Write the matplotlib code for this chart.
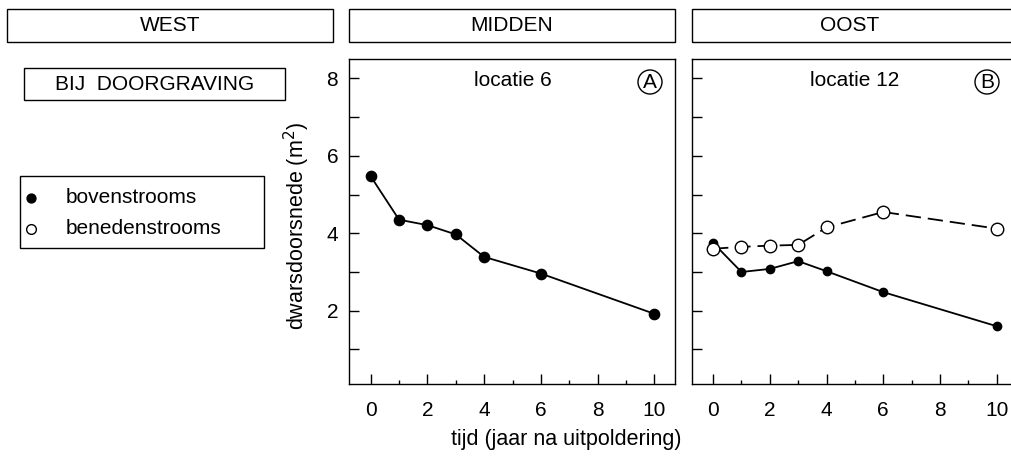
import matplotlib
matplotlib.use("Agg")
import matplotlib.pyplot as plt
from matplotlib.patches import Rectangle, Circle
from matplotlib.ticker import FixedLocator

plt.rcParams['font.family'] = ['Liberation Sans', 'DejaVu Sans']
plt.rcParams['lines.scale_dashes'] = False

# --- data -------------------------------------------------------------
years = [0, 1, 2, 3, 4, 6, 10]
loc6_boven = [5.47, 4.35, 4.21, 3.97, 3.39, 2.96, 1.92]
loc12_boven = [3.75, 3.00, 3.08, 3.28, 3.02, 2.48, 1.60]
loc12_beneden = [3.60, 3.65, 3.68, 3.70, 4.15, 4.55, 4.12]

region_titles = ["WEST", "MIDDEN", "OOST"]
panel_titles = ["locatie 6", "locatie 12"]
panel_letters = ["A", "B"]
legend_labels = ["bovenstrooms", "benedenstrooms"]
xticks = [0, 2, 4, 6, 8, 10]
yticks = [2, 4, 6, 8]

W, H = 1011, 457
fig = plt.figure(figsize=(W / 100, H / 100), dpi=100)

def fx(px):
    return px / W

def fy(py):
    return 1 - py / H

FS = 15

def add_panel(left_px, right_px):
    top, bottom = 59, 384.3
    ax = fig.add_axes([fx(left_px), fy(bottom), (right_px - left_px) / W,
                       (bottom - top) / H])
    ax.set_xlim(-0.755, 10.74)
    ax.set_ylim(0.1, 8.5)
    ax.xaxis.set_major_locator(FixedLocator(xticks))
    ax.xaxis.set_minor_locator(FixedLocator([1, 3, 5, 7, 9]))
    ax.yaxis.set_major_locator(FixedLocator(yticks))
    ax.yaxis.set_minor_locator(FixedLocator([1, 3, 5, 7]))
    ax.tick_params(axis='x', which='major', direction='in', length=7.2,
                   width=1, pad=12, labelsize=FS)
    ax.tick_params(axis='x', which='minor', direction='in', length=3,
                   width=1)
    ax.tick_params(axis='y', which='both', direction='in', length=7.2,
                   width=1, pad=8, labelsize=FS)
    for s in ax.spines.values():
        s.set_linewidth(1)
        s.set_color('black')
    return ax

axA = add_panel(349.3, 675.3)
axB = add_panel(691.7, 1017.7)
axB.set_yticklabels([])
axB.spines['right'].set_visible(False)

lw = 1.3
axA.plot(years, loc6_boven, color='black', lw=lw, marker='o', ms=7.4,
         mfc='black', mec='black', zorder=3)
axB.plot(years, loc12_boven, color='black', lw=lw, marker='o', ms=6.0,
         mfc='black', mec='black', zorder=3)
axB.plot(years, loc12_beneden, color='black', lw=lw, ls='--',
         dashes=(11, 5), marker='o', ms=9.0, mfc='white', mec='black',
         mew=1, zorder=4)

# panel captions and circled letters
for title, letter, cx_px, lx_px in [
        (panel_titles[0], panel_letters[0], 513, 650),
        (panel_titles[1], panel_letters[1], 855, 987)]:
    fig.text(fx(cx_px), fy(81), title, ha='center', va='center',
             fontsize=FS)
    fig.text(fx(lx_px), fy(82), letter, ha='center', va='center',
             fontsize=FS)
    circ = Circle((lx_px, H - 82), 12, transform=None, fill=False,
                  edgecolor='black', lw=1)
    fig.patches.append(circ)

# region header boxes
for (x0, x1), cx, name in zip([(7, 333), (349, 675), (692, 1025)],
                              [170, 512, 850], region_titles):
    fig.patches.append(Rectangle((fx(x0), fy(41.7)), fx(x1 - x0),
                                 (41.7 - 9.3) / H, transform=fig.transFigure,
                                 fill=False, edgecolor='black', lw=1))
    fig.text(fx(cx), fy(25.5), name, ha='center', va='center', fontsize=FS)

# situation box
fig.patches.append(Rectangle((fx(24.3), fy(100)), fx(284.7 - 24.3),
                             (100 - 68.3) / H, transform=fig.transFigure,
                             fill=False, edgecolor='black', lw=1))
fig.text(fx(154.5), fy(84), "BIJ  DOORGRAVING", ha='center', va='center',
         fontsize=FS)

# legend box
fig.patches.append(Rectangle((fx(20), fy(247.7)), fx(264 - 20),
                             (247.7 - 175.7) / H, transform=fig.transFigure,
                             fill=False, edgecolor='black', lw=1))
fig.lines.append(plt.Line2D([fx(31)], [fy(197.7)], transform=fig.transFigure,
                            marker='o', ms=6.4, mfc='black', mec='black',
                            ls='none'))
fig.lines.append(plt.Line2D([fx(31)], [fy(229)], transform=fig.transFigure,
                            marker='o', ms=7.0, mfc='white', mec='black',
                            mew=1, ls='none'))
fig.text(fx(65.7), fy(197.7), legend_labels[0], ha='left', va='center',
         fontsize=FS)
fig.text(fx(65.7), fy(229), legend_labels[1], ha='left', va='center',
         fontsize=FS)

# axis titles
fig.text(fx(297), fy(226), "dwarsdoorsnede (m$^2$)", rotation=90,
         ha='center', va='center', fontsize=FS + 0.5)
fig.text(fx(566), fy(440), "tijd (jaar na uitpoldering)", ha='center',
         va='center', fontsize=FS + 0.5)

fig.savefig("out.png", dpi=100)
